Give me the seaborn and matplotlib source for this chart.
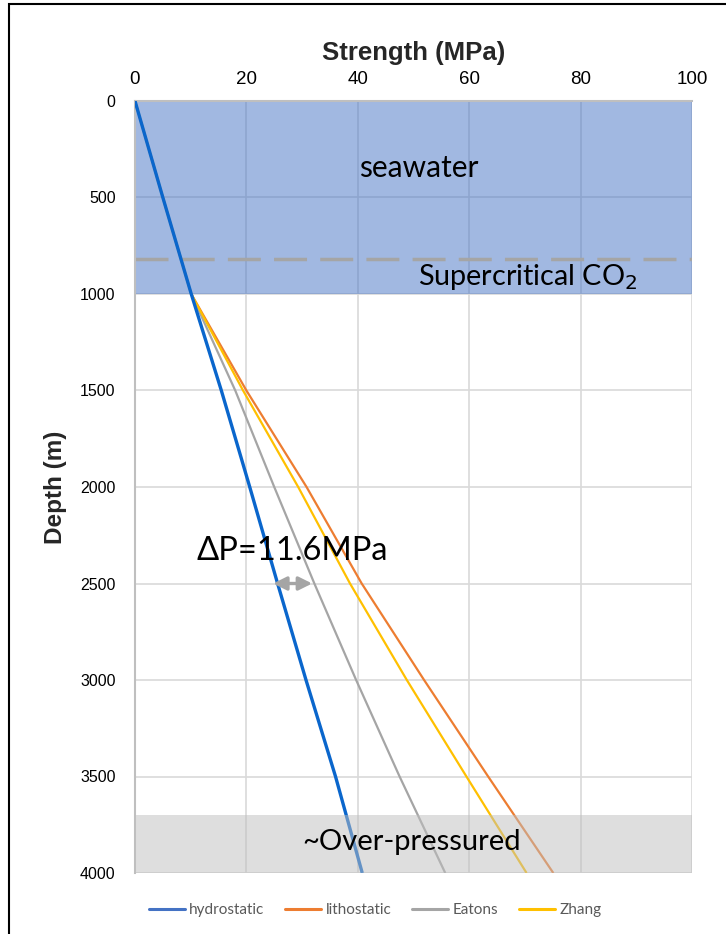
import matplotlib
matplotlib.use("Agg")
import matplotlib.pyplot as plt
from matplotlib.patches import Rectangle
from matplotlib.lines import Line2D
import seaborn as sns
import pandas as pd

# ---- data ----
depth = [0, 500, 1000, 1500, 2000, 2500, 3000, 3500, 4000]
hydrostatic = [0, 5.0, 10.1, 15.5, 20.6, 25.6, 30.7, 36.0, 40.8]
lithostatic = [0, 5.0, 10.1, 20.0, 30.8, 40.7, 51.9, 63.4, 75.1]
eatons = [0, 5.0, 10.1, 18.0, 25.0, 32.2, 39.7, 47.5, 55.7]
zhang = [0, 5.0, 10.1, 19.4, 29.3, 38.6, 48.8, 59.5, 70.3]
series_names = ["hydrostatic", "lithostatic", "Eatons", "Zhang"]
series_values = [hydrostatic, lithostatic, eatons, zhang]
x_ticks = [0, 20, 40, 60, 80, 100]
y_ticks = [0, 500, 1000, 1500, 2000, 2500, 3000, 3500, 4000]
seawater_range = (0, 1000)
co2_depth = 818
overpressure_range = (3700, 4000)
dp_depth = 2500
dp_from, dp_to = 24.8, 31.8

colors = {"hydrostatic": "#0A66CC", "lithostatic": "#ED7D31",
          "Eatons": "#A5A5A5", "Zhang": "#FFC000"}
legend_colors = {"hydrostatic": "#4472C4", "lithostatic": "#ED7D31",
                 "Eatons": "#A5A5A5", "Zhang": "#FFC000"}
widths = {"hydrostatic": 2.4, "lithostatic": 1.6, "Eatons": 1.6, "Zhang": 1.6}
zorders = {"hydrostatic": 6, "lithostatic": 3, "Eatons": 4, "Zhang": 5}

df = pd.DataFrame({
    "depth": depth * len(series_names),
    "strength": sum(series_values, []),
    "series": sum([[n] * len(depth) for n in series_names], []),
})

sns.set_theme(style="white")
plt.rcParams["font.family"] = ["Liberation Sans", "DejaVu Sans"]

W, H = 726, 934
fig = plt.figure(figsize=(W / 100, H / 100), dpi=100)
ax = fig.add_axes([135 / W, 1 - 873 / H, (692 - 135) / W, (873 - 101) / H])

for name in series_names:
    sns.lineplot(data=df[df["series"] == name], x="strength", y="depth",
                 orient="y", sort=False, estimator=None, color=colors[name],
                 linewidth=widths[name], ax=ax, zorder=zorders[name],
                 legend=False, solid_capstyle="butt")

ax.set_xlim(0, 100)
ax.set_ylim(4000, 0)
ax.xaxis.tick_top()
ax.xaxis.set_label_position("top")
ax.set_xticks(x_ticks)
ax.set_yticks(y_ticks)
ax.set_xticklabels([str(v) for v in x_ticks], fontsize=13.5, color="#000000")
ax.set_yticklabels([str(v) for v in y_ticks], fontsize=11.5, color="#000000")
ax.tick_params(axis="x", length=0, pad=9)
ax.tick_params(axis="y", length=0, pad=14)
ax.set_xlabel("Strength (MPa)", fontsize=18.5, fontweight="bold", labelpad=8)
ax.set_ylabel("Depth (m)", fontsize=17.5, fontweight="bold", labelpad=9)

ax.grid(True, color="#D9D9D9", linewidth=1.2, zorder=0)
ax.set_axisbelow(True)
for s in ["right", "bottom"]:
    ax.spines[s].set_visible(False)
ax.spines["left"].set_color("#BFBFBF")
ax.spines["left"].set_linewidth(1.5)
ax.spines["top"].set_color("#BFBFBF")
ax.spines["top"].set_linewidth(1.5)

# bands
ax.axhspan(*seawater_range, color="#4472C4", alpha=0.5, lw=0, zorder=1)
ax.axhline(co2_depth, color="#A5A5A5", lw=2.5, dashes=(9.5, 3.8), zorder=2)
ax.axhspan(*overpressure_range, color="#BFBFBF", alpha=0.5, lw=0, zorder=8)

txt = dict(family=["Lato", "DejaVu Sans"], color="#000000", ha="center", va="center")
ax.text(51, 347, "seawater", fontsize=21.5, zorder=9, **txt)
ax.text(70.4, 912, "Supercritical CO$_2$", fontsize=20.7, zorder=9, **txt)
ax.text(49.7, 3840, "~Over-pressured", fontsize=21, zorder=9, **txt)
ax.text(28.2, 2330, "ΔP=11.6MPa", fontsize=23.5, zorder=9, **txt)
ax.annotate("", xy=(dp_from, dp_depth), xytext=(dp_to, dp_depth),
            arrowprops=dict(arrowstyle="<|-|>", color="#A5A5A5", lw=2.4,
                            mutation_scale=20, shrinkA=0, shrinkB=0),
            zorder=9)

# legend
handles = [Line2D([], [], color=legend_colors[n], lw=2.2) for n in series_names]
leg = fig.legend(handles, series_names, loc="center", ncol=4,
                 bbox_to_anchor=(375 / W, 1 - 910 / H), frameon=False,
                 prop={"family": ["Lato", "DejaVu Sans"], "size": 11},
                 handlelength=2.35, handletextpad=0.3, columnspacing=1.35,
                 labelcolor="#595959")

# outer frame
fig.patches.append(Rectangle((9 / W, -0.1), 1.2, 1.1 - 4 / H, fill=False,
                             edgecolor="#000000", lw=1.5,
                             transform=fig.transFigure, figure=fig))

fig.savefig("out.png", dpi=100)
